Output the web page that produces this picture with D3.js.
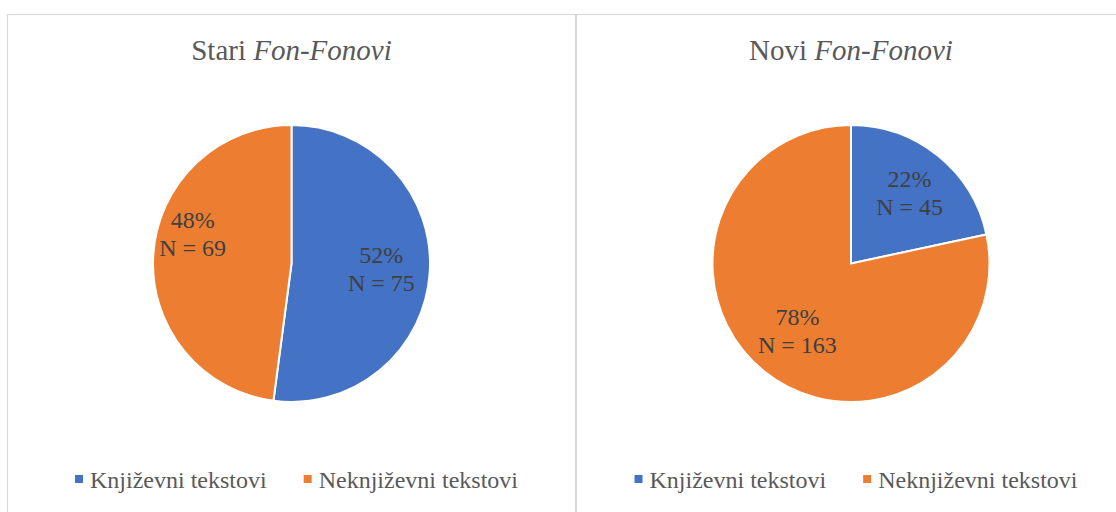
<!DOCTYPE html>
<html>
<head>
<meta charset="utf-8">
<script src="https://cdn.jsdelivr.net/npm/d3@7"></script>
<style>
  html, body { margin: 0; padding: 0; background: #ffffff; }
  svg { display: block; }
  svg text { font-family: "Liberation Serif", "Times New Roman", Times, "DejaVu Serif", serif; }
</style>
</head>
<body>
<svg id="chart" width="1116" height="512"></svg>
<script>
// ---- data ----
const categories = ["Književni tekstovi", "Neknjiževni tekstovi"];
const chartTitlesPlain = ["Stari ", "Novi "];
const chartTitlesItalic = ["Fon-Fonovi", "Fon-Fonovi"];
const staroCounts = [75, 69];
const novoCounts = [45, 163];
const staroPercents = ["52%", "48%"];
const novoPercents = ["22%", "78%"];
const colors = ["#4472C4", "#ED7D31"];

// ---- layout ----
const W = 1116, H = 512;
const panels = [
  { x0: 7.5, x1: 575.5, counts: staroCounts, pct: staroPercents, nudge: [[0, 0], [-9, -24]] },
  { x0: 576.5, x1: 1125.5, counts: novoCounts, pct: novoPercents, nudge: [[2, 0], [3, -3]] }
];
const topY = 14.5;
const pieCy = 263.5;
const radius = 138.5;

const svg = d3.select("#chart");

const pie = d3.pie().sort(null).value(d => d);
const arc = d3.arc().innerRadius(0).outerRadius(radius);
const labelArc = d3.arc().innerRadius(radius * 0.65).outerRadius(radius * 0.65);

panels.forEach((p, i) => {
  const cx = (p.x0 + p.x1) / 2;

  // panel border
  svg.append("rect")
    .attr("x", p.x0).attr("y", topY)
    .attr("width", p.x1 - p.x0).attr("height", H + 20)
    .attr("fill", "none")
    .attr("stroke", "#d9d9d9")
    .attr("stroke-width", 1.2);

  // title
  const t = svg.append("text")
    .attr("x", cx).attr("y", 60)
    .attr("text-anchor", "middle")
    .style("font-size", "29px")
    .attr("fill", "#595959");
  t.append("tspan").text(chartTitlesPlain[i]);
  t.append("tspan").style("font-style", "italic").text(chartTitlesItalic[i]);

  // pie
  const g = svg.append("g").attr("transform", `translate(${cx},${pieCy})`);
  const arcs = pie(p.counts);
  g.selectAll("path")
    .data(arcs)
    .join("path")
    .attr("d", arc)
    .attr("fill", (d, j) => colors[j])
    .attr("stroke", "#ffffff")
    .attr("stroke-width", 2)
    .attr("stroke-linejoin", "miter");

  // labels
  arcs.forEach((d, j) => {
    const [lx, ly] = labelArc.centroid(d);
    const x = lx + p.nudge[j][0];
    const y = ly + p.nudge[j][1];
    const txt = g.append("text")
      .attr("text-anchor", "middle")
      .style("font-size", "24px")
      .attr("fill", "#404040");
    txt.append("tspan").attr("x", x).attr("y", y - 6).text(p.pct[j]);
    txt.append("tspan").attr("x", x).attr("y", y + 22).text("N = " + p.counts[j]);
  });

  // legend
  const legend = svg.append("g");
  const items = legend.selectAll("g")
    .data(categories)
    .join("g");
  items.append("rect")
    .attr("width", 8).attr("height", 8)
    .attr("y", 475)
    .attr("fill", (d, j) => colors[j]);
  items.append("text")
    .attr("y", 488)
    .style("font-size", "24px")
    .attr("fill", "#595959")
    .text(d => d);
  let widths = [];
  items.each(function () {
    widths.push(d3.select(this).select("text").node().getComputedTextLength());
  });
  const gap = 37, sq = 8, sqGap = 7;
  const total = widths.reduce((a, w) => a + sq + sqGap + w, 0) + gap * (widths.length - 1);
  let xPos = cx + 5 - total / 2;
  items.each(function (d, j) {
    const s = d3.select(this);
    s.select("rect").attr("x", xPos);
    s.select("text").attr("x", xPos + sq + sqGap);
    xPos += sq + sqGap + widths[j] + gap;
  });
});
</script>
</body>
</html>
